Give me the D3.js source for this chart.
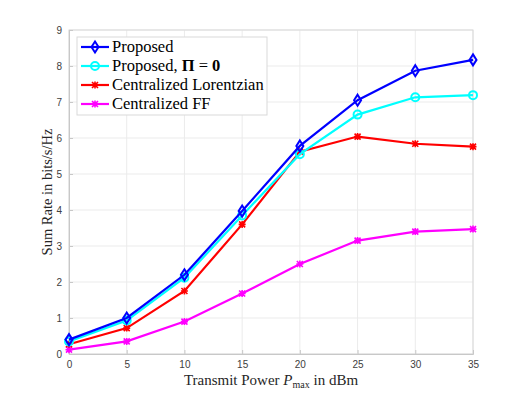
<html>
<head>
  <script src="https://d3js.org/d3.v7.min.js"></script>
  <style>
    body { margin: 0; background: #fff; }
    .serif { font-family: 'Liberation Serif', 'Times New Roman', serif; }
  </style>
</head>
<body>
  <svg id="chart" width="532" height="399"></svg>
  <script>
    // data
    const power = [0, 5, 10, 15, 20, 25, 30, 35];
    const proposed = [0.4, 1.0, 2.2, 3.97, 5.78, 7.05, 7.87, 8.17];
    const proposedPi0 = [0.35, 0.93, 2.12, 3.85, 5.55, 6.65, 7.13, 7.19];
    const lorentzian = [0.27, 0.72, 1.75, 3.6, 5.62, 6.04, 5.84, 5.76];
    const centralFF = [0.12, 0.35, 0.9, 1.68, 2.5, 3.15, 3.4, 3.47];
    const xTicks = [0, 5, 10, 15, 20, 25, 30, 35];
    const yTicks = [0, 1, 2, 3, 4, 5, 6, 7, 8, 9];

    const svg = d3.select('#chart');
    const m = { left: 69, right: 59, top: 30, bottom: 45 };
    const W = 532, H = 399;

    const x = d3.scaleLinear().domain([0, 35]).range([m.left, W - m.right]);
    const y = d3.scaleLinear().domain([0, 9]).range([H - m.bottom, m.top]);

    // grid
    const g = svg.append('g');
    g.selectAll('line.gx').data(xTicks).join('line')
      .attr('x1', d => x(d)).attr('x2', d => x(d))
      .attr('y1', y(0)).attr('y2', y(9))
      .attr('stroke', '#ebebeb').attr('stroke-width', 1);
    g.selectAll('line.gy').data(yTicks).join('line')
      .attr('y1', d => y(d)).attr('y2', d => y(d))
      .attr('x1', x(0)).attr('x2', x(35))
      .attr('stroke', '#ebebeb').attr('stroke-width', 1);

    // box
    g.append('rect')
      .attr('x', x(0)).attr('y', y(9))
      .attr('width', x(35) - x(0)).attr('height', y(0) - y(9))
      .attr('fill', 'none').attr('stroke', '#d9d9d9');

    const xAxis = d3.axisBottom(x).tickValues(xTicks).tickSize(-4).tickPadding(7);
    const yAxis = d3.axisLeft(y).tickValues(yTicks).tickSize(-4).tickPadding(7);

    const ax = svg.append('g').attr('transform', `translate(0,${y(0)})`).call(xAxis);
    const ay = svg.append('g').attr('transform', `translate(${x(0)},0)`).call(yAxis);
    [ax, ay].forEach(a => {
      a.select('.domain').attr('stroke', '#c8c8c8');
      a.selectAll('.tick line').attr('stroke', '#c8c8c8');
      a.selectAll('.tick text').attr('fill', '#404040')
        .attr('font-family', 'Liberation Sans, Arial, sans-serif').attr('font-size', 10);
    });

    // series
    const series = [
      { name: 'Proposed', vals: proposed, color: '#0000ff', marker: 'diamond' },
      { name: 'Proposed, Pi0', vals: proposedPi0, color: '#00ffff', marker: 'circle' },
      { name: 'Centralized Lorentzian', vals: lorentzian, color: '#ff0000', marker: 'star' },
      { name: 'Centralized FF', vals: centralFF, color: '#ff00ff', marker: 'star' }
    ];

    const line = d3.line().x((d, i) => x(power[i])).y(d => y(d));

    function drawMarker(sel, type, color) {
      if (type === 'diamond') {
        sel.append('path').attr('d', 'M0,-5.5L3.5,0L0,5.5L-3.5,0Z')
          .attr('fill', 'none').attr('stroke', color).attr('stroke-width', 2);
      } else if (type === 'circle') {
        sel.append('circle').attr('r', 4)
          .attr('fill', 'none').attr('stroke', color).attr('stroke-width', 2);
      } else {
        sel.append('path').attr('d', 'M-3,-3L3,3M-3,3L3,-3M0,-3.5L0,3.5M-3.5,0L3.5,0')
          .attr('fill', 'none').attr('stroke', color).attr('stroke-width', 1.6);
      }
    }

    // draw in reverse so Proposed sits on top
    series.slice().reverse().forEach(s => {
      svg.append('path').datum(s.vals)
        .attr('d', line).attr('fill', 'none')
        .attr('stroke', s.color).attr('stroke-width', 2.2);
      s.vals.forEach((v, i) => {
        const mk = svg.append('g').attr('transform', `translate(${x(power[i])},${y(v)})`);
        drawMarker(mk, s.marker, s.color);
      });
    });

    // legend
    const lg = svg.append('g');
    lg.append('rect').attr('x', 77).attr('y', 37).attr('width', 190).attr('height', 78)
      .attr('fill', '#fff').attr('stroke', '#d9d9d9');
    series.forEach((s, i) => {
      const yy = 47 + i * 19;
      lg.append('line').attr('x1', 81).attr('x2', 109).attr('y1', yy).attr('y2', yy)
        .attr('stroke', s.color).attr('stroke-width', 2.2);
      const mk = lg.append('g').attr('transform', `translate(95,${yy})`);
      drawMarker(mk, s.marker, s.color);
      const t = lg.append('text').attr('class', 'serif').attr('x', 112).attr('y', yy + 5)
        .attr('font-size', 16.5).attr('fill', '#000');
      if (i === 1) {
        t.append('tspan').text('Proposed, ');
        t.append('tspan').attr('font-weight', 'bold').text('Π');
        t.append('tspan').text(' = ');
        t.append('tspan').attr('font-weight', 'bold').text('0');
      } else {
        t.text(s.name);
      }
    });

    // axis labels
    const xl = svg.append('text').attr('class', 'serif')
      .attr('x', (x(0) + x(35)) / 2).attr('y', 385)
      .attr('text-anchor', 'middle').attr('font-size', 15)
      .attr('fill', '#262626');
    xl.append('tspan').text('Transmit Power ');
    xl.append('tspan').attr('font-style', 'italic').text('P');
    xl.append('tspan').attr('font-size', 10).attr('dy', 3).text('max');
    xl.append('tspan').attr('dy', -3).text(' in dBm');

    svg.append('text').attr('class', 'serif')
      .attr('transform', `translate(52,${(y(0) + y(9)) / 2}) rotate(-90)`)
      .attr('text-anchor', 'middle').attr('font-size', 14.5)
      .attr('fill', '#262626')
      .text('Sum Rate in bits/s/Hz');
  </script>
</body>
</html>
